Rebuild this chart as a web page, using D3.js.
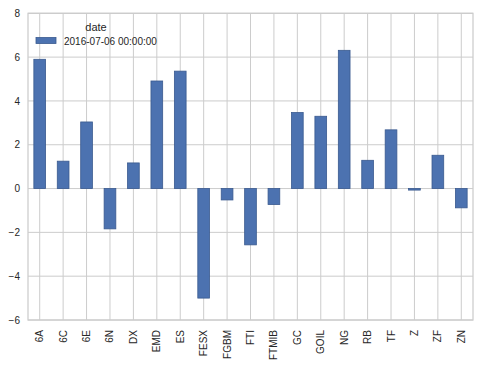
<!DOCTYPE html>
<html>
<head>
<meta charset="utf-8">
<script src="https://cdn.jsdelivr.net/npm/d3@7"></script>
<style>
  body { margin: 0; background: #fff; }
  text { font-family: "Liberation Sans", Arial, sans-serif; fill: #262626; }
</style>
</head>
<body>
<svg id="svg" width="477" height="365"></svg>
<script>
const symbols = ['6A', '6C', '6E', '6N', 'DX', 'EMD', 'ES', 'FESX', 'FGBM', 'FTI', 'FTMIB', 'GC', 'GOIL', 'NG', 'RB', 'TF', 'Z', 'ZF', 'ZN'];
const values = [5.9, 1.25, 3.04, -1.84, 1.17, 4.91, 5.36, -5.0, -0.52, -2.57, -0.73, 3.47, 3.3, 6.31, 1.29, 2.68, -0.07, 1.52, -0.88];
const yTicks = [-6, -4, -2, 0, 2, 4, 6, 8];
const seriesName = '2016-07-06 00:00:00';
const legendTitle = 'date';

const margin = { left: 28, right: 4, top: 13.3, bottom: 45 };
const W = 477, H = 365;
const svg = d3.select('#svg');

const x = d3.scaleBand()
  .domain(symbols)
  .range([margin.left, W - margin.right])
  .paddingInner(0.5)
  .paddingOuter(0.25);
const y = d3.scaleLinear().domain([-6, 8]).range([H - margin.bottom, margin.top]);

// grid
svg.append('g')
  .selectAll('line')
  .data(yTicks)
  .enter().append('line')
  .attr('x1', margin.left).attr('x2', W - margin.right)
  .attr('y1', d => y(d)).attr('y2', d => y(d))
  .attr('stroke', '#cccccc').attr('stroke-width', 1);
svg.append('g')
  .selectAll('line')
  .data(symbols)
  .enter().append('line')
  .attr('x1', d => x(d) + x.bandwidth() / 2).attr('x2', d => x(d) + x.bandwidth() / 2)
  .attr('y1', y(8)).attr('y2', y(-6))
  .attr('stroke', '#cccccc').attr('stroke-width', 1);

// frame
svg.append('rect')
  .attr('x', margin.left).attr('y', y(8))
  .attr('width', W - margin.right - margin.left).attr('height', y(-6) - y(8))
  .attr('fill', 'none').attr('stroke', '#cccccc').attr('stroke-width', 1.25);

// bars
svg.append('g')
  .selectAll('rect')
  .data(symbols)
  .enter().append('rect')
  .attr('x', d => x(d))
  .attr('width', x.bandwidth())
  .attr('y', (d, i) => y(Math.max(0, values[i])))
  .attr('height', (d, i) => Math.abs(y(values[i]) - y(0)))
  .attr('fill', '#4c72b0')
  .attr('stroke', '#3a5a8f')
  .attr('stroke-width', 0.8);

// y axis labels
const yAxis = svg.append('g')
  .attr('transform', `translate(${margin.left},0)`)
  .call(d3.axisLeft(y).tickValues(yTicks).tickSize(0).tickPadding(8).tickFormat(d => d < 0 ? '\u2212' + Math.abs(d) : d));
yAxis.select('.domain').remove();
yAxis.selectAll('text').style('font-size', '10px').attr('fill', '#262626')
  .style('font-family', '"Liberation Sans", Arial, sans-serif');

// x axis labels
const xAxis = svg.append('g')
  .attr('transform', `translate(0,${y(-6)})`)
  .call(d3.axisBottom(x).tickSize(0).tickPadding(0));
xAxis.select('.domain').remove();
xAxis.selectAll('text')
  .style('font-size', '10px').attr('fill', '#262626')
  .style('font-family', '"Liberation Sans", Arial, sans-serif')
  .attr('text-anchor', 'end')
  .attr('dy', '0.35em')
  .attr('transform', 'translate(0,10) rotate(-90)');

// legend
const leg = svg.append('g');
leg.append('text')
  .attr('x', 96).attr('y', 31)
  .attr('text-anchor', 'middle')
  .style('font-size', '11px')
  .text(legendTitle);
leg.append('rect')
  .attr('x', 36).attr('y', 37.5).attr('width', 20).attr('height', 6)
  .attr('fill', '#4c72b0').attr('stroke', '#3a5a8f').attr('stroke-width', 0.8);
leg.append('text')
  .attr('x', 64).attr('y', 44.5)
  .style('font-size', '10px')
  .text(seriesName);
</script>
</body>
</html>
